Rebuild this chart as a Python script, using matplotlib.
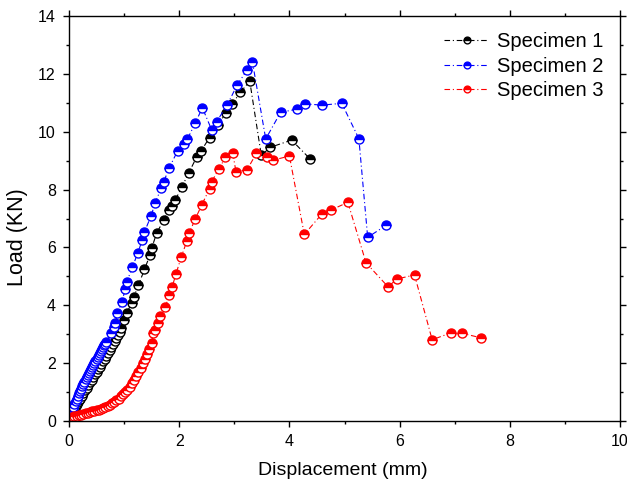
import matplotlib
matplotlib.use("Agg")
import matplotlib.pyplot as plt
from matplotlib.ticker import MultipleLocator

plt.rcParams['font.family'] = ['Liberation Sans', 'DejaVu Sans']

# Specimen 1 (black)
s1_x = [0.00, 0.02, 0.04, 0.06, 0.08, 0.10, 0.12, 0.14, 0.16, 0.18, 0.20, 0.23, 0.26, 0.29,
        0.32, 0.35, 0.38, 0.41, 0.44, 0.47, 0.50, 0.53, 0.56, 0.59, 0.62, 0.65, 0.68, 0.71,
        0.74, 0.77, 0.80, 0.83, 0.86, 0.89, 0.92, 0.95,
        0.99, 1.05, 1.14, 1.18, 1.26, 1.37, 1.47, 1.50, 1.59, 1.72, 1.81, 1.87, 1.93, 2.05,
        2.17, 2.32, 2.40, 2.55, 2.70, 2.85, 2.96, 3.11, 3.28, 3.49, 3.65, 4.04, 4.37]
s1_y = [0.10, 0.17, 0.24, 0.31, 0.38, 0.45, 0.52, 0.59, 0.66, 0.72, 0.78, 0.88, 0.98, 1.07,
        1.16, 1.25, 1.34, 1.43, 1.52, 1.61, 1.70, 1.79, 1.88, 1.97, 2.06, 2.15, 2.25, 2.35,
        2.45, 2.55, 2.65, 2.76, 2.87, 2.98, 3.09, 3.20,
        3.49, 3.74, 4.09, 4.30, 4.70, 5.24, 5.74, 5.97, 6.49, 6.95, 7.29, 7.45, 7.64, 8.10,
        8.56, 9.14, 9.34, 9.80, 10.23, 10.66, 10.96, 11.36, 11.75, 9.18, 9.46, 9.71, 9.07]

# Specimen 2 (blue)
s2_x = [0.00, 0.01, 0.02, 0.03, 0.04, 0.05, 0.07, 0.08, 0.10, 0.12, 0.14, 0.16, 0.18, 0.20,
        0.22, 0.24, 0.26, 0.28, 0.30, 0.32, 0.34, 0.36, 0.38, 0.40, 0.42, 0.44, 0.46, 0.48,
        0.50, 0.52, 0.54, 0.56, 0.58, 0.60, 0.62, 0.64, 0.66, 0.68,
        0.76, 0.81, 0.84, 0.88, 0.96, 1.02, 1.05, 1.15, 1.25, 1.33, 1.37, 1.49, 1.56, 1.67,
        1.72, 1.82, 1.97, 2.08, 2.15, 2.29, 2.42, 2.59, 2.68, 2.87, 3.05, 3.23, 3.33, 3.57,
        3.84, 4.14, 4.29, 4.59, 4.95, 5.26, 5.42, 5.75]
s2_y = [0.10, 0.15, 0.20, 0.25, 0.30, 0.36, 0.45, 0.50, 0.60, 0.69, 0.78, 0.87, 0.96, 1.04,
        1.12, 1.20, 1.28, 1.36, 1.44, 1.51, 1.58, 1.65, 1.72, 1.79, 1.86, 1.93, 2.00, 2.07,
        2.14, 2.21, 2.28, 2.35, 2.42, 2.49, 2.56, 2.62, 2.68, 2.74,
        3.03, 3.26, 3.40, 3.72, 4.12, 4.55, 4.82, 5.31, 5.82, 6.26, 6.54, 7.09, 7.52, 8.04,
        8.27, 8.76, 9.33, 9.57, 9.75, 10.29, 10.83, 10.06, 10.35, 10.92, 11.61, 12.13, 12.40, 9.75,
        10.67, 10.78, 10.96, 10.92, 10.98, 9.76, 6.35, 6.76]

# Specimen 3 (red)
s3_x = [0.00, 0.02, 0.04, 0.07, 0.10, 0.14, 0.18, 0.22, 0.26, 0.30, 0.34, 0.38, 0.42, 0.46,
        0.50, 0.54, 0.58, 0.62, 0.66, 0.70, 0.74, 0.78, 0.82, 0.86, 0.90, 0.94, 0.98, 1.02,
        1.06, 1.10, 1.14, 1.18, 1.22, 1.26, 1.30, 1.34, 1.38, 1.42, 1.46, 1.50,
        1.53, 1.56, 1.61, 1.65, 1.75, 1.82, 1.87, 1.94, 2.04, 2.14, 2.18, 2.29, 2.41, 2.55,
        2.59, 2.72, 2.84, 2.97, 3.03, 3.23, 3.40, 3.59, 3.71, 4.00, 4.27, 4.59, 4.75, 5.06,
        5.39, 5.79, 5.95, 6.27, 6.59, 6.93, 7.14, 7.47]
s3_y = [0.03, 0.08, 0.11, 0.14, 0.16, 0.18, 0.20, 0.22, 0.25, 0.27, 0.29, 0.32, 0.34, 0.36,
        0.38, 0.40, 0.43, 0.46, 0.50, 0.53, 0.57, 0.62, 0.67, 0.72, 0.78, 0.85, 0.92, 1.00,
        1.09, 1.19, 1.30, 1.42, 1.55, 1.70, 1.85, 2.00, 2.16, 2.33, 2.50, 2.70,
        3.03, 3.15, 3.40, 3.63, 3.95, 4.35, 4.62, 5.08, 5.68, 6.23, 6.49, 6.98, 7.47, 8.03,
        8.27, 8.72, 9.11, 9.28, 8.62, 8.68, 9.25, 9.14, 9.02, 9.16, 6.45, 7.16, 7.29, 7.56,
        5.47, 4.64, 4.91, 5.05, 2.81, 3.05, 3.03, 2.88]

labels = ['Specimen 1', 'Specimen 2', 'Specimen 3']
colors = ['#000000', '#0000FF', '#FF0000']

fig = plt.figure(figsize=(6.27, 4.84), dpi=100)
ax = fig.add_axes([0.110, 0.130, 0.879, 0.837])

for xs, ys, lab, c in zip([s1_x, s2_x, s3_x], [s1_y, s2_y, s3_y], labels, colors):
    ax.plot(xs, ys, linestyle=(0, (5, 2.5, 1, 2.5)), lw=0.8, color=c,
            marker='o', markersize=6.5, fillstyle='top', markerfacecolor=c,
            markerfacecoloralt='white', markeredgecolor=c, markeredgewidth=1.0,
            label=lab)

ax.set_xlim(0, 10)
ax.set_ylim(0, 14)
ax.xaxis.set_major_locator(MultipleLocator(2))
ax.xaxis.set_minor_locator(MultipleLocator(1))
ax.yaxis.set_major_locator(MultipleLocator(2))
ax.yaxis.set_minor_locator(MultipleLocator(1))
ax.tick_params(which='both', direction='out', top=True, right=True,
               labeltop=False, labelright=False, width=1.0)
ax.tick_params(which='major', length=4.5, labelsize=11.5, pad=5)
ax.tick_params(which='minor', length=2.5)
for sp in ax.spines.values():
    sp.set_linewidth(1.0)

ax.set_xlabel('Displacement (mm)', fontsize=14)
ax.xaxis.set_label_coords(0.497, -0.122)
ax.set_ylabel('Load (KN)', fontsize=15.5)
ax.yaxis.set_label_coords(-0.093, 0.454)
ax.xaxis.label.set_verticalalignment('center')
ax.yaxis.label.set_verticalalignment('center')

ax.legend(loc='upper right', bbox_to_anchor=(0.984, 0.98), frameon=False,
          fontsize=14.5, numpoints=1, handlelength=2.2, labelspacing=0.28,
          borderaxespad=0.0, handletextpad=0.4, markerscale=0.75)

fig.savefig('out.png', dpi=100)
